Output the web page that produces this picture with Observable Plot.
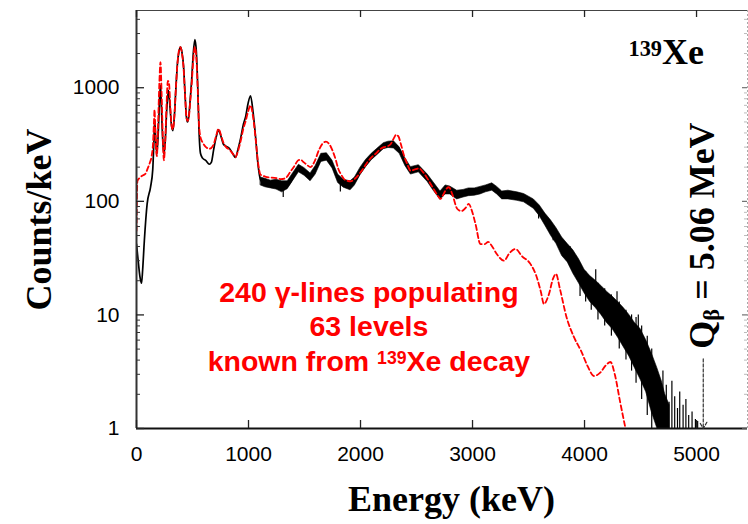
<!DOCTYPE html>
<html><head><meta charset="utf-8">
<script src="https://cdn.jsdelivr.net/npm/d3@7"></script>
<script src="https://cdn.jsdelivr.net/npm/@observablehq/plot@0.6"></script>
<style>html,body{margin:0;padding:0;background:#fff}#chart svg{display:block}</style>
</head><body><div id="chart"></div>
<script>
// ---- data ----
const blackE = [0,15,30,45,55,70,95,125,145,155,163,172,182,195,206,214,222,232,244,256,270,285,298,312,325,338,352,366,380,393,406,420,433,445,455,467,480,492,506,521,534,547,557,571,590,620,650,668,690,712,732,752,775,800,830,860,884,905,930,955,975,995,1018,1040,1063,1085,1107,1130,1165,1200,1250,1290,1330,1370,1410,1440,1464,1490,1520,1554,1590,1630,1665,1700,1735,1770,1800,1830,1870,1911,1950,1990,2030,2060,2100,2140,2180,2208,2240,2270,2298,2330,2360,2390,2420,2446,2480,2521,2560,2595,2630,2660,2690,2714,2740,2770,2800,2830,2863,2900,2940,2967,3000,3040,3071,3110,3140,3176,3210,3240,3265,3300,3350,3400,3458,3500,3547,3600,3640,3667,3700,3740,3780,3815,3850,3875,3920,3964,4000,4024,4083,4140,4200,4260,4321,4381,4430,4470,4500,4530,4575,4619,4650,4679,4710,4740];
const blackV = [42,30,22,19,25,45,95,133,190,330,520,340,260,420,800,1050,700,380,260,330,640,950,700,470,420,560,1000,1650,2100,2280,2050,1550,900,560,500,560,800,1150,1950,2650,2100,1000,450,265,240,228,212,220,290,370,425,380,320,305,292,262,243,285,360,480,560,720,850,620,370,210,155,145,140,142,140,135,132,145,170,190,198,185,175,163,185,220,245,250,225,185,160,145,140,138,150,175,200,220,245,270,295,305,310,320,318,305,270,230,200,186,190,193,180,162,145,130,120,112,118,128,125,118,112,115,118,120,120,122,124,128,132,134,126,117,112,113,114,110,106,100,94,82,72,66,58,50,43,39,35,32,28,24.5,20,18,15.5,13,11.5,10.3,9,7.5,6.4,5.5,5,4.3,3.5,2.7,2,1.5,1.1,0.9];
// statistical-noise envelope of the measured spectrum
const bandE  = [1110,1150,1200,1250,1300,1350,1400,1450,1500,1554,1600,1650,1700,1750,1800,1850,1911,1950,2000,2050,2100,2150,2208,2250,2298,2350,2400,2450,2521,2600,2650,2714,2760,2800,2863,2920,2967,3020,3071,3120,3176,3220,3265,3320,3400,3460,3547,3600,3650,3700,3750,3800,3850,3900,3950,4000,4050,4100,4150,4200,4250,4300,4350,4400,4450,4500,4550,4600,4650,4690,4720,4760];
const bandLo = [138,133,130,127,120,128,152,180,168,150,172,222,228,195,145,132,125,138,170,200,230,255,288,295,292,262,205,172,180,148,125,103,115,115,104,108,111,112,115,120,124,115,104,104,101,98,86,74,61,50,42,33,29,23,19,15.5,13,11.5,10,8.5,7.5,6.3,5.2,4.3,3.4,2.7,2.1,1.4,1.0,0.8,0.8,0.8];
const bandHi = [162,158,152,155,150,150,178,210,196,176,205,262,265,228,172,155,150,162,198,232,262,290,325,335,338,298,240,200,208,172,148,122,138,135,124,126,130,130,134,138,144,134,122,124,120,116,104,92,78,68,58,48,42,37,31,25,22,20,18,16,14.5,13,11.5,10,8.5,7.5,6,4.6,3.4,2.6,2,1.6];
// individual noise spikes (top and bottom of each)
const spikeE   = [1310,1820,3590,3720,3870,3960,4010,4060,4100,4120,4180,4240,4290,4310,4370,4420,4460,4480,4510,4560,4600,4700,4730,4755,4780,4805,4830,4850,4880,4905,4930,4960,4990,5010];
const spikeTop = [135,150,90,60,40,28,24,21,25,19,17,15,16,13,11,10,9.5,10,8,6.5,5,3.2,2.4,1.7,2.6,1.9,1.5,2.1,1.6,1.8,1.3,1.4,1.2,1.15];
const spikeBot = [108,121,70,45,27,14.5,13,11,16,9,8,6.5,9,5,4,3.2,2.5,4,1.8,1.3,1,1,1,1,1,1,1,1,1,1,1,1,1,1];
// simulation: 240 gamma lines, 63 levels
const redE = [0,8,25,50,80,100,120,135,148,156,161,167,175,182,192,204,214,224,234,244,256,268,280,290,303,315,325,338,352,366,380,393,406,420,433,445,455,467,480,492,506,521,534,547,557,571,590,620,650,668,690,712,732,752,775,800,830,860,884,905,930,955,975,995,1018,1040,1063,1085,1107,1130,1165,1200,1250,1290,1330,1370,1410,1440,1464,1490,1520,1554,1590,1630,1665,1690,1720,1750,1780,1800,1830,1851,1880,1911,1950,1990,2030,2060,2100,2140,2180,2208,2240,2270,2298,2318,2340,2360,2390,2420,2446,2480,2521,2560,2595,2630,2660,2690,2714,2740,2770,2789,2820,2863,2900,2940,2967,2990,3027,3071,3110,3140,3161,3220,3280,3330,3384,3440,3518,3570,3610,3637,3680,3720,3745,3780,3840,3905,3970,4030,4083,4140,4190,4232,4270,4321,4366,4400];
const redV = [55,150,160,168,175,195,220,250,330,500,640,450,280,250,450,1100,1680,900,400,230,330,700,1150,1100,650,450,430,560,1000,1650,2150,2280,2000,1500,880,560,510,550,760,1050,1700,2280,1850,950,500,367,330,300,290,295,320,380,435,390,330,300,285,262,245,275,340,440,510,610,700,560,360,220,172,168,163,162,160,157,160,180,205,228,233,222,210,200,225,285,325,335,320,280,230,195,170,158,152,150,158,175,198,220,245,265,290,300,305,320,360,386,370,320,250,210,186,190,195,180,160,140,125,112,105,115,130,133,115,86,82,88,95,85,63,42,42,44,42,34,30,35,38,33,28,22,16,12.5,15,21,23,17,9.5,6.4,4.8,3.5,2.9,3.1,3.6,3.85,3.0,1.65,1.0,0.7];
const xTicks = [0,1000,2000,3000,4000,5000];
const yTicks = [1,10,100,1000];
const yMinor = [2,3,4,5,6,7,8,9,20,30,40,50,60,70,80,90,200,300,400,500,600,700,800,900,2000,3000,4000];
const xDomain = [0,5455];
const yDomain = [1,4786];
const qBeta = 5060; // keV
const redLines = "240 γ-lines populating\n63 levels\nknown from ^{139}Xe decay";

// ---- tables ----
const black = blackE.map((e,i)=>({e, v: blackV[i]}));
const band = bandE.map((e,i)=>({e, lo: bandLo[i], hi: bandHi[i]}));
const spikes = spikeE.map((e,i)=>({e, top: spikeTop[i], bot: spikeBot[i]}));
const red = redE.map((e,i)=>({e, v: redV[i]}));

const W=748, H=524, mT=10, mB=96, mL=136, mR=1;
const FH=H-mT-mB, FW=W-mL-mR;
const serif = "'Liberation Serif','Times New Roman',Times,serif";
const sans = "'Liberation Sans',Arial,Helvetica,sans-serif";

const plot = Plot.plot({
  width: W, height: H,
  marginTop: mT, marginBottom: mB, marginLeft: mL, marginRight: mR,
  style: {fontFamily: sans, background: "#fff", color: "#000"},
  x: {domain: xDomain},
  y: {type: "log", domain: yDomain},
  marks: [
    Plot.areaY(band, {x: "e", y1: "lo", y2: "hi", fill: "#000", stroke: "#000", strokeWidth: 0.6, clip: true}),
    Plot.ruleX(spikes, {x: "e", y1: "bot", y2: "top", stroke: "#000", strokeWidth: 1.2, clip: true}),
    Plot.line(black, {x: "e", y: "v", stroke: "#000", strokeWidth: 1.7, curve: "monotone-x", clip: true}),
    Plot.line(red, {x: "e", y: "v", stroke: "#ff0000", strokeWidth: 1.8, strokeDasharray: "5,3", curve: "monotone-x", clip: true}),
    // frame
    Plot.ruleY([yDomain[1]], {stroke: "#444", strokeWidth: 1}),
    Plot.ruleX([xDomain[1]], {stroke: "#aaa", strokeWidth: 1, strokeDasharray: "2,2"}),
    Plot.ruleX([xDomain[0]], {stroke: "#333", strokeWidth: 2}),
    Plot.ruleY([yDomain[0]], {stroke: "#111", strokeWidth: 2}),
    // inward ticks
    Plot.ruleX(xTicks, {insetTop: FH-8, stroke: "#222", strokeWidth: 1.3}),
    Plot.ruleX(xTicks, {insetBottom: FH-7, stroke: "#222", strokeWidth: 1.3}),
    Plot.ruleY(yTicks, {insetRight: FW-8, stroke: "#222", strokeWidth: 1.3}),
    Plot.ruleY(yMinor, {insetRight: FW-4, stroke: "#333", strokeWidth: 1}),
    Plot.ruleY(yTicks, {insetLeft: FW-5, stroke: "#555", strokeWidth: 1}),
    Plot.ruleY(yMinor, {insetLeft: FW-3, stroke: "#bbb", strokeWidth: 1}),
    // tick labels
    Plot.axisX({ticks: xTicks, tickSize: 0, tickPadding: 18, fontSize: 21, tickFormat: d => String(d), label: null}),
    Plot.axisY({ticks: yTicks, tickSize: 0, tickPadding: 17, fontSize: 21, tickFormat: d => String(d), label: null}),
    // axis titles
    Plot.text(["Energy (keV)"], {text: d => d, frameAnchor: "bottom", dx: 9.5, dy: 82, lineAnchor: "bottom", textAnchor: "middle", fontFamily: serif, fontWeight: "bold", fontSize: 36, fill: "#000"}),
    Plot.text(["Counts/keV"], {text: d => d, frameAnchor: "left", dx: -86, rotate: -90, lineAnchor: "bottom", textAnchor: "middle", fontFamily: serif, fontWeight: "bold", fontSize: 36, fill: "#000"}),
    // annotations
    Plot.text(["^{139}Xe"], {text: d => d, x: 4393, y: 1633, textAnchor: "start", lineAnchor: "bottom", fontFamily: serif, fontWeight: "bold", fontSize: 36, fill: "#000"}),
    Plot.text([redLines], {text: d => d, x: 2075, y: 3.24, textAnchor: "middle", lineAnchor: "bottom", lineHeight: 1.2, fontFamily: sans, fontWeight: "bold", fontSize: 28.5, fill: "#ff0000"}),
    Plot.text(["Q_{β} = 5.06 MeV"], {text: d => d, x: 5152, y: 50, rotate: -90, textAnchor: "middle", lineAnchor: "bottom", fontFamily: serif, fontWeight: "bold", fontSize: 36, fill: "#000"}),
    Plot.arrow([qBeta], {x1: d => d, x2: d => d, y1: 4.1, y2: yDomain[0], stroke: "#333", strokeWidth: 1.2, strokeDasharray: "3,2", headLength: 9})
  ]
});

// superscript / subscript markup -> tspans
function richify(svg) {
  const ns = "http://www.w3.org/2000/svg";
  svg.querySelectorAll("text, tspan").forEach(el => {
    if (el.childElementCount) return;
    const s = el.textContent;
    if (!/[\^_]\{/.test(s)) return;
    el.textContent = "";
    const re = /([\^_])\{([^}]*)\}|([^\^_]+)/g;
    let m;
    while ((m = re.exec(s))) {
      const ts = document.createElementNS(ns, "tspan");
      if (m[1]) {
        ts.textContent = m[2];
        ts.setAttribute("font-size", "0.62em");
        ts.setAttribute("baseline-shift", m[1] === "^" ? "38%" : "-22%");
      } else ts.textContent = m[3];
      el.appendChild(ts);
    }
  });
}
richify(plot);
document.getElementById("chart").appendChild(plot);
</script>
</body></html>
